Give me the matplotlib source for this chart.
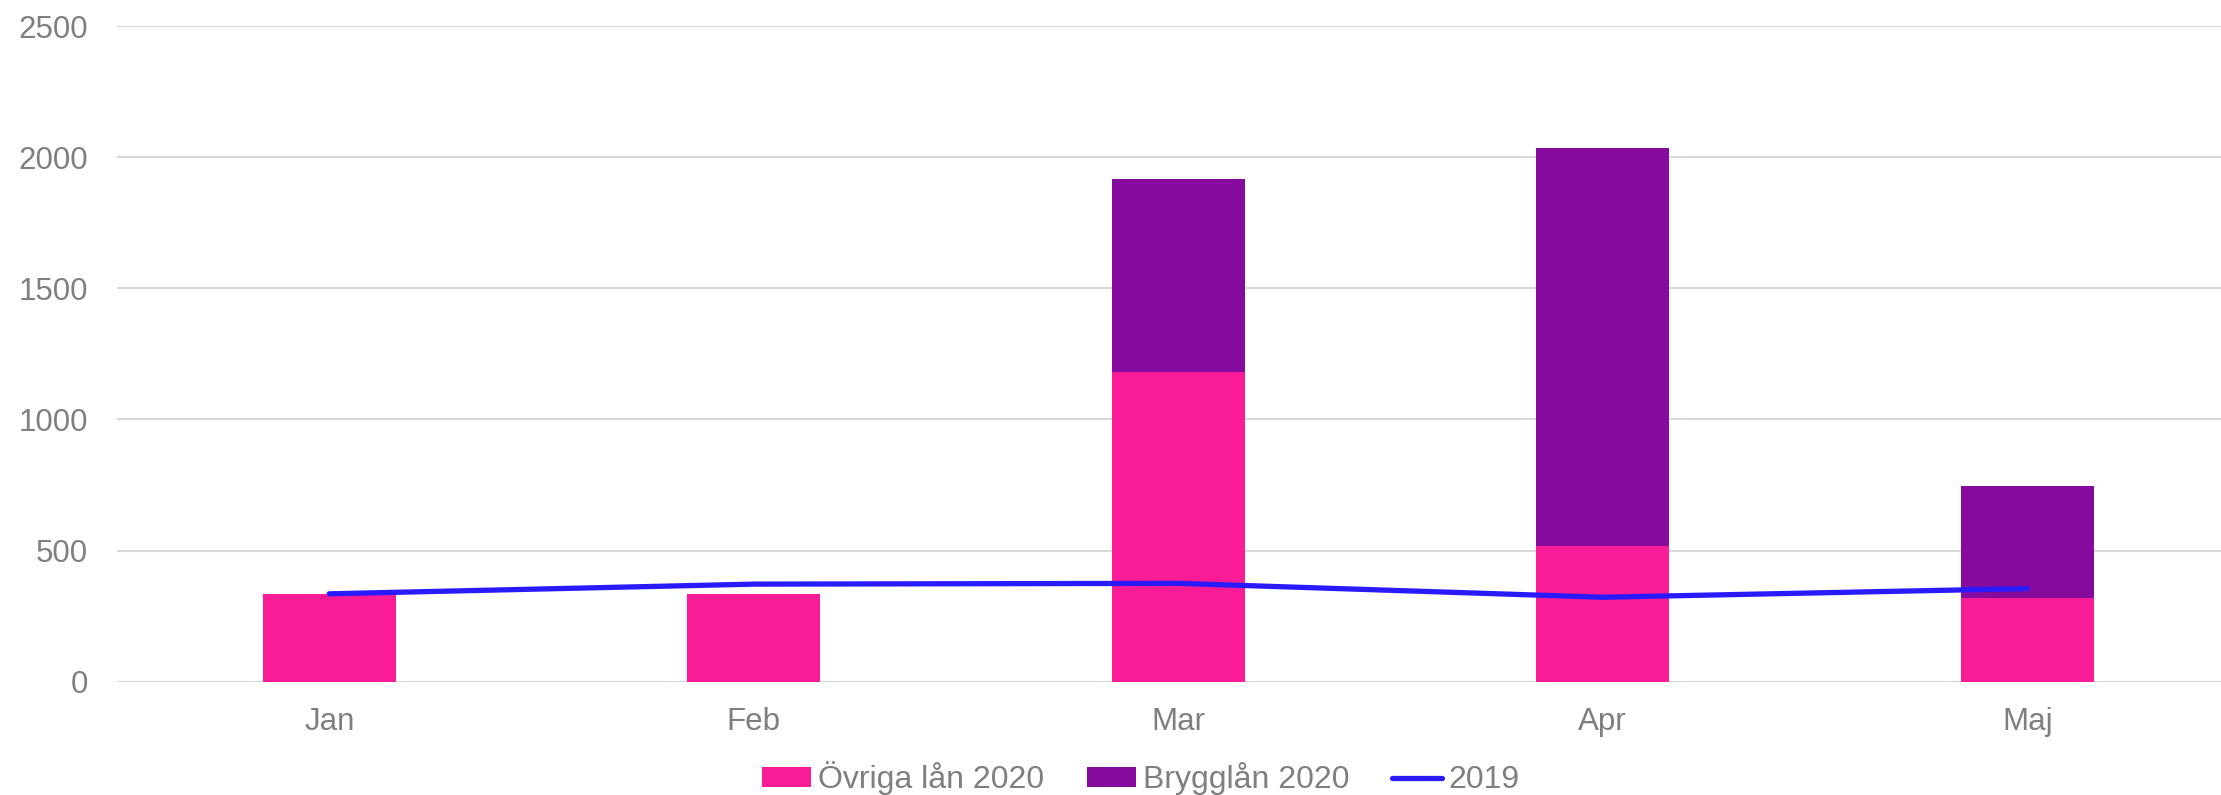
import matplotlib
matplotlib.use("Agg")
import matplotlib.pyplot as plt
import numpy as np

plt.rcParams['font.family'] = ['Liberation Sans', 'DejaVu Sans']

# data
months = ["Jan", "Feb", "Mar", "Apr", "Maj"]
ovriga_2020 = [335, 333, 1180, 518, 318]
brygglan_2020 = [0, 0, 737, 1518, 429]
line_2019 = [335, 372, 375, 322, 355]

pink = "#FA1C96"
purple = "#870A9E"
blue = "#2A1AFF"
grey = "#7F7F7F"

fig = plt.figure(figsize=(22.21, 7.95), dpi=100)
ax = fig.add_axes([117 / 2221, 1 - 681.7 / 795, 2122.5 / 2221, (681.7 - 26) / 795])

x = np.arange(len(months))
w = 0.313
b1 = ax.bar(x, ovriga_2020, w, color=pink, label="Övriga lån 2020", zorder=2)
b2 = ax.bar(x, brygglan_2020, w, bottom=ovriga_2020, color=purple,
            label="Brygglån 2020", zorder=2)
ln, = ax.plot(x, line_2019, color=blue, lw=3.8, solid_capstyle="round",
              label="2019", zorder=3)

ax.set_xlim(-0.5, 4.5)
ax.set_ylim(0, 2500)
ax.set_yticks(np.arange(0, 2501, 500))
ax.set_xticks(x)
ax.set_xticklabels(months)

ax.grid(axis="y", color="#D9D9D9", lw=1.5, zorder=0)
ax.set_axisbelow(True)
for s in ax.spines.values():
    s.set_visible(False)
ax.tick_params(axis="both", length=0, labelsize=22.5, labelcolor=grey)
ax.tick_params(axis="y", pad=21)
ax.tick_params(axis="x", pad=18)

fig.legend([b1, b2, ln], ["Övriga lån 2020", "Brygglån 2020", "2019"],
           loc="center", bbox_to_anchor=(0.5135, 0.021), ncol=3,
           frameon=False, fontsize=23, labelcolor=grey,
           handlelength=1.55, handleheight=0.55, handletextpad=0.2,
           columnspacing=1.35, borderaxespad=0)

fig.savefig("out.png", dpi=100)
